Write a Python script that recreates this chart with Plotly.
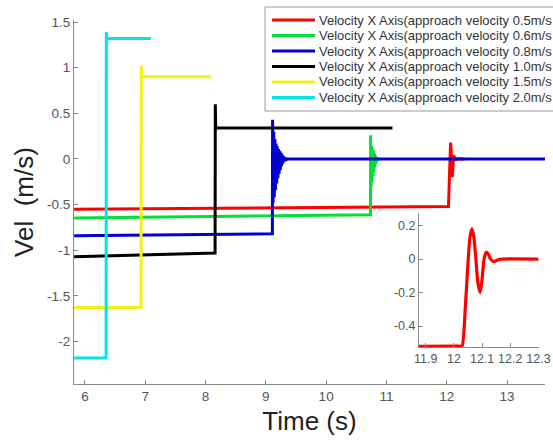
import plotly.graph_objects as go

# ---------------- data ----------------
series_names = [
    "Velocity X Axis(approach velocity 0.5m/s",
    "Velocity X Axis(approach velocity 0.6m/s",
    "Velocity X Axis(approach velocity 0.8m/s",
    "Velocity X Axis(approach velocity 1.0m/s",
    "Velocity X Axis(approach velocity 1.5m/s",
    "Velocity X Axis(approach velocity 2.0m/s",
]
series_colors = ["#ff0000", "#00e036", "#0000d0", "#000000", "#f2f21a", "#00e6e6"]

red_t = [5.82, 12.02, 12.029, 12.040, 12.050, 12.057, 12.064, 12.070, 12.077, 12.085,
         12.093, 12.100, 12.107, 12.115, 12.122, 12.130, 12.142, 12.155, 12.170, 12.30]
red_v = [-0.55, -0.52, -0.52, -0.30, -0.02, 0.13, 0.18, 0.14, 0.02, -0.14,
         -0.20, -0.12, 0.00, 0.04, 0.03, 0.00, -0.015, -0.005, 0.0, 0.0]

green_t = [5.82, 10.735, 10.738, 10.746, 10.754, 10.762, 10.770, 10.778, 10.786, 10.794,
           10.802, 10.810, 10.818, 10.826, 10.834, 10.842, 10.850, 10.86, 10.88]
green_v = [-0.645, -0.61, 0.26, -0.30, 0.14, -0.25, 0.12, -0.19, 0.09, -0.14,
           0.06, -0.09, 0.04, -0.05, 0.02, -0.02, 0.01, 0.0, 0.0]

blue_t = [5.82, 9.108, 9.112, 9.120, 9.130, 9.140, 9.150, 9.160, 9.170, 9.180, 9.190,
          9.200, 9.210, 9.220, 9.230, 9.240, 9.250, 9.260, 9.270, 9.280, 9.290,
          9.300, 9.310, 9.320, 9.330, 9.345, 9.36, 13.63]
blue_v = [-0.84, -0.82, 0.43, -0.48, 0.30, -0.42, 0.22, -0.34, 0.17, -0.27, 0.14,
          -0.21, 0.11, -0.16, 0.09, -0.12, 0.07, -0.08, 0.05, -0.05, 0.03,
          -0.03, 0.02, -0.015, 0.01, -0.005, 0.0, 0.0]

black_t = [5.82, 8.158, 8.162, 8.168, 11.10]
black_v = [-1.07, -1.03, 0.60, 0.34, 0.34]

yellow_t = [5.82, 6.93, 6.934, 6.942, 8.09]
yellow_v = [-1.625, -1.625, 1.02, 0.90, 0.90]

cyan_t = [5.82, 6.35, 6.354, 6.362, 7.09]
cyan_v = [-2.18, -2.18, 1.39, 1.32, 1.32]

x_ticks = [6, 7, 8, 9, 10, 11, 12, 13]
x_ticktext = ["6", "7", "8", "9", "10", "11", "12", "13"]
y_ticks = [-2, -1.5, -1, -0.5, 0, 0.5, 1, 1.5]
y_ticktext = ["-2", "-1.5", "-1", "-0.5", "0", "0.5", "1", "1.5"]

inset_x_ticks = [11.9, 12.0, 12.1, 12.2, 12.3]
inset_x_ticktext = ["11.9", "12", "12.1", "12.2", "12.3"]
inset_y_ticks = [-0.4, -0.2, 0.0, 0.2]
inset_y_ticktext = ["-0.4", "-0.2", "0", "0.2"]

# ---------------- figure ----------------
FONT = "Liberation Sans, Arial, sans-serif"
AXC = "#8a8a8a"
TXT = "#555555"
W, H = 553, 443
ML, MR, MT, MB = 74, 8, 20, 59
PW, PH = W - ML - MR, H - MT - MB


def px_x(p):  # pixel -> paper x
    return (p - ML) / PW


def px_y(p):  # pixel -> paper y
    return (H - MB - p) / PH


all_t = [red_t, green_t, blue_t, black_t, yellow_t, cyan_t]
all_v = [red_v, green_v, blue_v, black_v, yellow_v, cyan_v]

fig = go.Figure()
for t, v, name, col in zip(all_t, all_v, series_names, series_colors):
    fig.add_trace(go.Scatter(x=t, y=v, mode="lines", name=name, showlegend=False,
                             line=dict(color=col, width=3),
                             xaxis="x", yaxis="y"))

# inset (zoom on red curve)
fig.add_trace(go.Scatter(x=red_t, y=red_v, mode="lines", showlegend=False,
                         line=dict(color=series_colors[0], width=3.2, shape="spline", smoothing=0.6),
                         xaxis="x2", yaxis="y2"))

# legend box (MATLAB style, runs past the right edge)
shapes = [dict(type="rect", xref="paper", yref="paper", layer="above",
               x0=px_x(265), x1=px_x(575), y0=px_y(111), y1=px_y(7),
               fillcolor="white", line=dict(color="#9a9a9a", width=1))]
annotations = []
for i, (name, col) in enumerate(zip(series_names, series_colors)):
    yc = 20 + 15.5 * i
    shapes.append(dict(type="line", xref="paper", yref="paper", layer="above",
                       x0=px_x(272), x1=px_x(315), y0=px_y(yc), y1=px_y(yc),
                       line=dict(color=col, width=3)))
    annotations.append(dict(xref="paper", yref="paper", x=px_x(317), y=px_y(yc),
                            xanchor="left", yanchor="middle", showarrow=False,
                            text=name, font=dict(family=FONT, size=13, color="#333")))

axis_common = dict(showline=True, linecolor=AXC, linewidth=1, ticks="inside",
                   ticklen=4, tickcolor=AXC, showgrid=False, zeroline=False,
                   tickfont=dict(family=FONT, size=13.5, color=TXT))
inset_axis = dict(axis_common, tickfont=dict(family=FONT, size=12.5, color=TXT))

fig.update_layout(
    width=W, height=H,
    margin=dict(l=ML, r=MR, t=MT, b=MB, autoexpand=False),
    paper_bgcolor="white", plot_bgcolor="white",
    font=dict(family=FONT, color=TXT),
    showlegend=False,
    shapes=shapes, annotations=annotations,
    xaxis=dict(range=[5.818, 13.63], tickvals=x_ticks, ticktext=x_ticktext,
               domain=[0, 1], anchor="y",
               title=dict(text="Time (s)", font=dict(family=FONT, size=26, color="#222"),
                          standoff=8),
               **axis_common),
    yaxis=dict(range=[-2.464, 1.522], tickvals=y_ticks, ticktext=y_ticktext,
               domain=[0, 1], anchor="x",
               title=dict(text="Vel\u00a0 (m/s)", font=dict(family=FONT, size=26, color="#222"),
                          standoff=5),
               **axis_common),
    xaxis2=dict(range=[11.876, 12.302], tickvals=inset_x_ticks, ticktext=inset_x_ticktext,
                domain=[px_x(419), px_x(539)], anchor="y2", **inset_axis),
    yaxis2=dict(range=[-0.525, 0.275], tickvals=inset_y_ticks, ticktext=inset_y_ticktext,
                domain=[px_y(347), px_y(213)], anchor="x2", **inset_axis),
)

fig.write_html("out.html")
